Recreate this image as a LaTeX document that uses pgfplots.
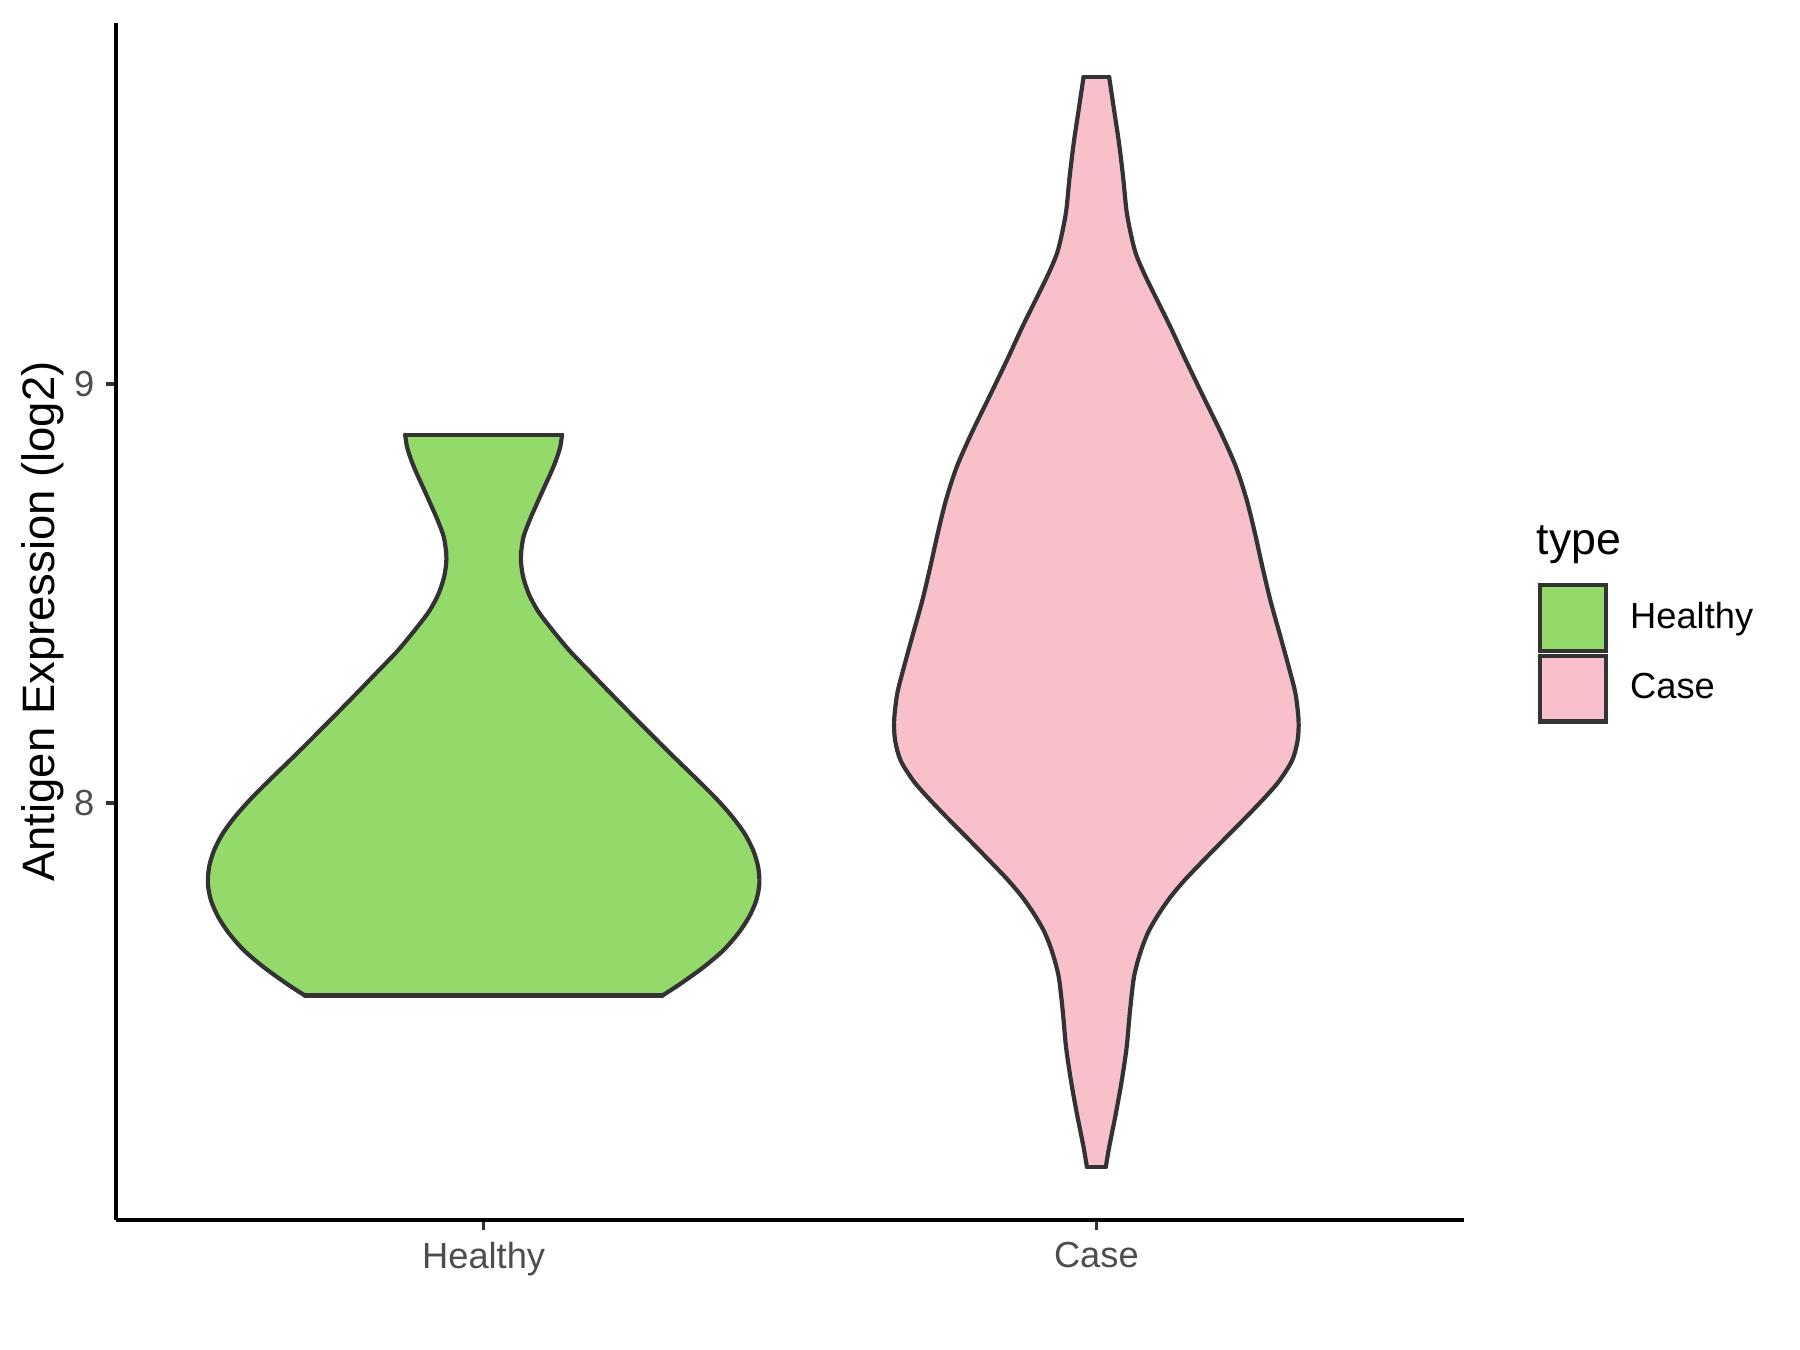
\documentclass[border=0pt]{standalone}
\usepackage{pgfplots}
\pgfplotsset{compat=1.18}
\usepackage{pgfplotstable}
\usepackage{fontspec}
\setmainfont{Liberation Sans}
\definecolor{healthyfill}{HTML}{93DA6A}
\definecolor{casefill}{HTML}{F7C0CB}
\definecolor{vline}{HTML}{333333}
\definecolor{ticktext}{HTML}{4D4D4D}
\pgfplotsset{sqlegend/.style={legend image code/.code={\draw[##1] (0bp,-8.2bp) rectangle (16.4bp,8.2bp);}}}
% Healthy violin, right edge (bottom to top)
\pgfplotstableread{
x y
1.292 7.540
1.3214 7.568
1.3594 7.608
1.3914 7.648
1.4154 7.688
1.433 7.727
1.445 7.767
1.450 7.807
1.448 7.847
1.440 7.886
1.426 7.926
1.406 7.966
1.382 8.006
1.355 8.046
1.2995 8.125
1.245 8.205
1.208 8.260
1.171 8.316
1.1395 8.364
1.1085 8.419
1.088 8.459
1.0735 8.499
1.0645 8.539
1.0612 8.571
1.061 8.594
1.065 8.634
1.075 8.674
1.087 8.714
1.099 8.753
1.109 8.785
1.118 8.817
1.125 8.849
1.128 8.878
}\HR
% Healthy violin, left edge (bottom to top)
\pgfplotstableread{
x y
0.708 7.540
0.6786 7.568
0.6406 7.608
0.6086 7.648
0.5846 7.688
0.567 7.727
0.555 7.767
0.550 7.807
0.552 7.847
0.560 7.886
0.574 7.926
0.594 7.966
0.618 8.006
0.645 8.046
0.7005 8.125
0.755 8.205
0.792 8.260
0.829 8.316
0.8605 8.364
0.8915 8.419
0.912 8.459
0.9265 8.499
0.9355 8.539
0.9388 8.571
0.939 8.594
0.935 8.634
0.925 8.674
0.913 8.714
0.901 8.753
0.891 8.785
0.882 8.817
0.875 8.849
0.872 8.878
}\HL
% Healthy violin as one polygon (for the fill)
\pgfplotstableread{
x y
1.292 7.540
1.3214 7.568
1.3594 7.608
1.3914 7.648
1.4154 7.688
1.433 7.727
1.445 7.767
1.450 7.807
1.448 7.847
1.440 7.886
1.426 7.926
1.406 7.966
1.382 8.006
1.355 8.046
1.2995 8.125
1.245 8.205
1.208 8.260
1.171 8.316
1.1395 8.364
1.1085 8.419
1.088 8.459
1.0735 8.499
1.0645 8.539
1.0612 8.571
1.061 8.594
1.065 8.634
1.075 8.674
1.087 8.714
1.099 8.753
1.109 8.785
1.118 8.817
1.125 8.849
1.128 8.878
0.872 8.878
0.875 8.849
0.882 8.817
0.891 8.785
0.901 8.753
0.913 8.714
0.925 8.674
0.935 8.634
0.939 8.594
0.9388 8.571
0.9355 8.539
0.9265 8.499
0.912 8.459
0.8915 8.419
0.8605 8.364
0.829 8.316
0.792 8.260
0.755 8.205
0.7005 8.125
0.645 8.046
0.618 8.006
0.594 7.966
0.574 7.926
0.560 7.886
0.552 7.847
0.550 7.807
0.555 7.767
0.567 7.727
0.5846 7.688
0.6086 7.648
0.6406 7.608
0.6786 7.568
0.708 7.540
}\HP
% Case violin, right edge (bottom to top)
\pgfplotstableread{
x y
2.0155 7.131
2.0209 7.178
2.0318 7.258
2.0415 7.337
2.0495 7.417
2.0545 7.497
2.0605 7.576
2.0665 7.616
2.075 7.656
2.086 7.695
2.102 7.735
2.121 7.775
2.144 7.815
2.170 7.855
2.196 7.894
2.223 7.934
2.250 7.974
2.276 8.014
2.299 8.053
2.3195 8.101
2.3285 8.149
2.330 8.197
2.325 8.260
2.314 8.324
2.299 8.404
2.284 8.483
2.271 8.563
2.259 8.642
2.2455 8.722
2.228 8.801
2.204 8.881
2.175 8.968
2.146 9.056
2.121 9.135
2.094 9.215
2.078 9.263
2.0643 9.311
2.0562 9.358
2.0491 9.414
2.0437 9.493
2.0371 9.573
2.029 9.6525
2.0209 9.732
}\CR
% Case violin, left edge (bottom to top)
\pgfplotstableread{
x y
1.9845 7.131
1.9791 7.178
1.9682 7.258
1.9585 7.337
1.9505 7.417
1.9455 7.497
1.9395 7.576
1.9335 7.616
1.925 7.656
1.914 7.695
1.898 7.735
1.879 7.775
1.856 7.815
1.830 7.855
1.804 7.894
1.777 7.934
1.750 7.974
1.724 8.014
1.701 8.053
1.6805 8.101
1.6715 8.149
1.670 8.197
1.675 8.260
1.686 8.324
1.701 8.404
1.716 8.483
1.729 8.563
1.741 8.642
1.7545 8.722
1.772 8.801
1.796 8.881
1.825 8.968
1.854 9.056
1.879 9.135
1.906 9.215
1.922 9.263
1.9357 9.311
1.9438 9.358
1.9509 9.414
1.9563 9.493
1.9629 9.573
1.971 9.6525
1.9791 9.732
}\CL
% Case violin as one polygon (for the fill)
\pgfplotstableread{
x y
2.0155 7.131
2.0209 7.178
2.0318 7.258
2.0415 7.337
2.0495 7.417
2.0545 7.497
2.0605 7.576
2.0665 7.616
2.075 7.656
2.086 7.695
2.102 7.735
2.121 7.775
2.144 7.815
2.170 7.855
2.196 7.894
2.223 7.934
2.250 7.974
2.276 8.014
2.299 8.053
2.3195 8.101
2.3285 8.149
2.330 8.197
2.325 8.260
2.314 8.324
2.299 8.404
2.284 8.483
2.271 8.563
2.259 8.642
2.2455 8.722
2.228 8.801
2.204 8.881
2.175 8.968
2.146 9.056
2.121 9.135
2.094 9.215
2.078 9.263
2.0643 9.311
2.0562 9.358
2.0491 9.414
2.0437 9.493
2.0371 9.573
2.029 9.6525
2.0209 9.732
1.9791 9.732
1.971 9.6525
1.9629 9.573
1.9563 9.493
1.9509 9.414
1.9438 9.358
1.9357 9.311
1.922 9.263
1.906 9.215
1.879 9.135
1.854 9.056
1.825 8.968
1.796 8.881
1.772 8.801
1.7545 8.722
1.741 8.642
1.729 8.563
1.716 8.483
1.701 8.404
1.686 8.324
1.675 8.260
1.670 8.197
1.6715 8.149
1.6805 8.101
1.701 8.053
1.724 8.014
1.750 7.974
1.777 7.934
1.804 7.894
1.830 7.855
1.856 7.815
1.879 7.775
1.898 7.735
1.914 7.695
1.925 7.656
1.9335 7.616
1.9395 7.576
1.9455 7.497
1.9505 7.417
1.9585 7.337
1.9682 7.258
1.9791 7.178
1.9845 7.131
}\CP
\begin{document}
\begin{tikzpicture}
\path[use as bounding box] (-29bp,-32.5bp) rectangle (421bp,305bp);
\begin{axis}[
  scale only axis, width=337bp, height=299.25bp,
  at={(0,0)}, anchor=south west,
  clip=false,
  xmin=0.4, xmax=2.6, ymin=7.004, ymax=9.861,
  axis x line*=bottom, axis y line*=left,
  axis line style={-, black, line width=1bp},
  xtick={1,2}, xticklabels={Healthy,Case},
  ytick={8,9}, yticklabels={8,9},
  tick align=outside, major tick length=2.6bp,
  tick style={vline, line width=0.9bp},
  xticklabel style={font=\fontsize{9.1}{11}\selectfont, text=ticktext, anchor=north, inner sep=0pt, yshift=-2.7bp},
  yticklabel style={font=\fontsize{9.1}{11}\selectfont, text=ticktext, anchor=east, inner sep=0pt, xshift=-2.6bp},
  ylabel={Antigen Expression (log2)},
  ylabel style={font=\fontsize{11.4}{13}\selectfont, at={(axis description cs:-0.0547,0.5)}, anchor=center},
  legend style={draw=none, fill=none, at={(axis description cs:1.0549,0.532)}, anchor=north west, inner sep=0pt, outer sep=0pt, row sep=0.2bp, column sep=5.6bp, nodes={inner sep=0pt}, font=\fontsize{9.1}{11}\selectfont, text=black},
  legend cell align=left,
]
% Healthy
\addplot[fill=healthyfill, draw=none, forget plot] table[x=x,y=y] {\HP} -- cycle;
\addplot[vline, line width=1.05bp, smooth, line cap=round, forget plot] table[x=x,y=y] {\HR};
\addplot[vline, line width=1.05bp, smooth, line cap=round, forget plot] table[x=x,y=y] {\HL};
\addplot[vline, line width=1.05bp, line cap=round, forget plot] coordinates {(0.708,7.540) (1.292,7.540)};
\addplot[vline, line width=1.05bp, line cap=round, forget plot] coordinates {(0.872,8.878) (1.128,8.878)};
% Case
\addplot[fill=casefill, draw=none, forget plot] table[x=x,y=y] {\CP} -- cycle;
\addplot[vline, line width=1.05bp, smooth, line cap=round, forget plot] table[x=x,y=y] {\CR};
\addplot[vline, line width=1.05bp, smooth, line cap=round, forget plot] table[x=x,y=y] {\CL};
\addplot[vline, line width=1.05bp, line cap=round, forget plot] coordinates {(1.9845,7.131) (2.0155,7.131)};
\addplot[vline, line width=1.05bp, line cap=round, forget plot] coordinates {(1.9791,9.732) (2.0209,9.732)};
% legend
\addlegendimage{sqlegend, fill=healthyfill, draw=vline, line width=1.05bp}
\addlegendentry{Healthy}
\addlegendimage{sqlegend, fill=casefill, draw=vline, line width=1.05bp}
\addlegendentry{Case}
\node[anchor=west, inner sep=0pt, font=\fontsize{11.2}{13}\selectfont] at (axis description cs:1.0534,0.564) {type};
\end{axis}
\end{tikzpicture}
\end{document}
